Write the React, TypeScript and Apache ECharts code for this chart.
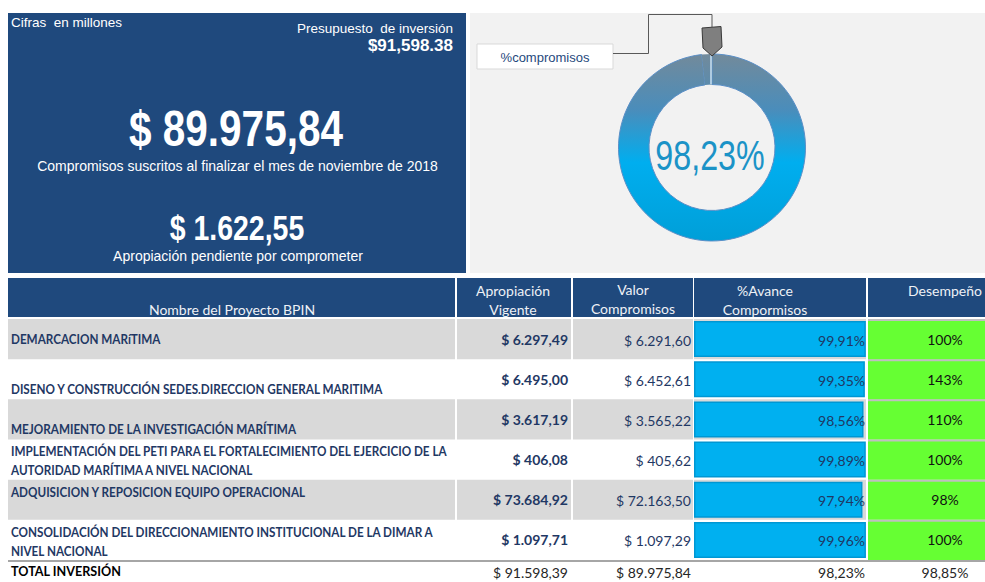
import React, { useEffect, useRef } from "react";
import * as echarts from "echarts";

// ---------------- data ----------------
const projects = [
  "DEMARCACION MARíTIMA",
  "DISENO Y CONSTRUCCIÓN SEDES.DIRECCION GENERAL MARITIMA",
  "MEJORAMIENTO DE LA INVESTIGACIÓN MARÍTIMA",
  "IMPLEMENTACIÓN DEL PETI PARA EL FORTALECIMIENTO DEL EJERCICIO DE LA\nAUTORIDAD MARÍTIMA A NIVEL NACIONAL",
  "ADQUISICION Y REPOSICION EQUIPO OPERACIONAL",
  "CONSOLIDACIÓN DEL DIRECCIONAMIENTO INSTITUCIONAL DE LA DIMAR A\nNIVEL NACIONAL",
];
const apropiacionVigente = [6297.49, 6495.0, 3617.19, 406.08, 73684.92, 1097.71];
const valorCompromisos = [6291.6, 6452.61, 3565.22, 405.62, 72163.5, 1097.29];
const avanceCompromisos = [99.91, 99.35, 98.56, 99.89, 97.94, 99.96];
const desempeno = [100, 143, 110, 100, 98, 100];

const totalLabel = "TOTAL INVERSIÓN";
const totalApropiacion = 91598.39;
const totalCompromisos = 89975.84;
const totalAvance = 98.23;
const totalDesempeno = 98.85;

const headerLabels = [
  "Nombre del Proyecto BPIN",
  "Apropiación\nVigente",
  "Valor\nCompromisos",
  "%Avance\nCompormisos",
  "Desempeño",
];

const unitsNote = "Cifras  en millones";
const budgetTitle = "Presupuesto  de inversión";
const presupuestoInversion = 91598.38;
const compromisosSuscritos = 89975.84;
const committedCaption = "Compromisos suscritos al finalizar el mes de noviembre de 2018";
const pendientePorComprometer = 1622.55;
const pendingCaption = "Apropiación pendiente por comprometer";
const gaugeLegend = "%compromisos";
const gaugeSliceNames = ["%compromisos", "pendiente"];
const gaugeSlices = [98.23, 1.77];

// ---------------- formatting ----------------
function groupInt(s: string, sep: string) {
  return s.replace(/\B(?=(\d{3})+$)/g, sep);
}
function fmtEs(v: number, d = 2) {
  const [i, f] = v.toFixed(d).split(".");
  return groupInt(i, ".") + (f ? "," + f : "");
}
function fmtUs(v: number) {
  const [i, f] = v.toFixed(2).split(".");
  return groupInt(i, ",") + "." + f;
}
const money = (v: number) => "$ " + fmtEs(v);
const pct = (v: number, d = 2) => fmtEs(v, d) + "%";

// ---------------- layout / style ----------------
const FONT_T = "Lato, 'Open Sans', sans-serif";
const FONT_A = "'Liberation Sans', Arial, sans-serif";
const NAVY = "#1F497D";
const DARK = "#1F3864";
const GREY_ROW = "#D9D9D9";
const COLS = [
  [8, 455],
  [457, 571],
  [573, 693],
  [694, 866],
  [868, 985],
];
const BODY_TOP = 319;
const BODY_H = 241;
const NAME_VALIGN = ["middle", "bottom", "bottom", "middle", "top", "middle"];

function txt(x: number, y: number, text: string, font: string, fill: string, align = "left", valign = "middle", extra: any = {}) {
  return {
    type: "text",
    x,
    y,
    z: 10,
    silent: true,
    ...extra,
    style: {
      text,
      x: 0,
      y: 0,
      font,
      fill,
      align,
      textAlign: align,
      verticalAlign: valign,
      textVerticalAlign: valign,
      ...(extra.style || {}),
    },
  };
}

function renderBg(params: any, api: any) {
  const i = params.dataIndex;
  const yc = api.coord([0, i])[1];
  const h = api.size([0, 1])[1];
  const top = yc - h / 2;
  const children: any[] = [];
  if (i % 2 === 0) {
    for (let c = 0; c < 4; c++) {
      children.push({
        type: "rect",
        shape: { x: COLS[c][0], y: top, width: COLS[c][1] - COLS[c][0], height: h },
        style: { fill: GREY_ROW },
      });
    }
  }
  children.push({
    type: "rect",
    shape: { x: COLS[4][0], y: top, width: COLS[4][1] - COLS[4][0], height: h },
    style: { fill: "#66FF33" },
  });
  children.push({
    type: "rect",
    shape: { x: COLS[4][0], y: top, width: COLS[4][1] - COLS[4][0], height: 2 },
    style: { fill: "#BFBFBF" },
  });
  return { type: "group", children };
}

function renderText(params: any, api: any) {
  const i = params.dataIndex;
  const yc = api.coord([0, i])[1];
  const h = api.size([0, 1])[1];
  const top = yc - h / 2;
  const al = NAME_VALIGN[i];
  const ny =
    al === "top" ? top + 13 : al === "bottom" ? top + h - 10 : yc + (projects[i].indexOf("\n") >= 0 ? 1.5 : 0);
  const mk = (x: number, y: number, text: string, font: string, fill: string, align: string, scaleX = 1) => ({
    type: "text",
    x,
    y,
    scaleX,
    style: { text, x: 0, y: 0, font, fill, align, verticalAlign: "middle", lineHeight: 19 },
  });
  return {
    type: "group",
    children: [
      mk(11, ny, projects[i], `bold 13px ${FONT_T}`, DARK, "left", 0.9),
      mk(568, yc, money(apropiacionVigente[i]), `bold 14px ${FONT_T}`, DARK, "right"),
      mk(691, yc + 1, money(valorCompromisos[i]), `14px ${FONT_T}`, DARK, "right"),
      mk(865, yc + 1, pct(avanceCompromisos[i]), `14px ${FONT_T}`, DARK, "right"),
      mk(945, yc, pct(desempeno[i], 0), `14px ${FONT_T}`, "#111111", "center"),
    ],
  };
}

export default function App() {
  const ref = useRef<HTMLDivElement>(null);
  useEffect(() => {
    if (!ref.current) return;
    const chart = echarts.init(ref.current, undefined, { renderer: "svg" });

    const ringGrad = new echarts.graphic.LinearGradient(
      0,
      54,
      0,
      241,
      [
        { offset: 0, color: "#728A9B" },
        { offset: 0.3, color: "#4A8DBB" },
        { offset: 0.58, color: "#00AEEF" },
        { offset: 1, color: "#009FD8" },
      ],
      true
    );

    const graphics: any[] = [
      // top-left KPI panel
      { type: "rect", z: 0, silent: true, shape: { x: 8, y: 13, width: 458, height: 260 }, style: { fill: NAVY } },
      // gauge panel
      { type: "rect", z: 0, silent: true, shape: { x: 470, y: 13, width: 515, height: 260 }, style: { fill: "#F2F2F2" } },
      txt(11, 22.5, unitsNote, `13.5px ${FONT_A}`, "#FFFFFF"),
      txt(453, 28, budgetTitle, `13.5px ${FONT_A}`, "#FFFFFF", "right"),
      txt(453, 45, "$" + fmtUs(presupuestoInversion), `bold 17px ${FONT_A}`, "#FFFFFF", "right"),
      txt(236, 129, money(compromisosSuscritos), `bold 50px ${FONT_A}`, "#FFFFFF", "center", "middle", { scaleX: 0.81 }),
      txt(237.5, 166, committedCaption, `14px ${FONT_A}`, "#FFFFFF", "center"),
      txt(237, 228, money(pendientePorComprometer), `bold 36px ${FONT_A}`, "#FFFFFF", "center", "middle", { scaleX: 0.79 }),
      txt(238, 256, pendingCaption, `14px ${FONT_A}`, "#FFFFFF", "center"),
      // gauge legend box + connector + pointer
      {
        type: "rect",
        z: 10,
        silent: true,
        shape: { x: 477, y: 44, width: 136, height: 25 },
        style: { fill: "#FFFFFF", stroke: "#D9D9D9", lineWidth: 1 },
      },
      txt(545, 57, gaugeLegend, `13px ${FONT_A}`, NAVY, "center"),
      {
        type: "polyline",
        z: 10,
        silent: true,
        shape: { points: [[613, 53.5], [648.5, 53.5], [648.5, 14.5], [712, 14.5], [712, 27]] },
        style: { stroke: "#595959", lineWidth: 1, fill: null },
      },
      {
        type: "line",
        z: 10,
        silent: true,
        shape: { x1: 711, y1: 55, x2: 711, y2: 84 },
        style: { stroke: "#C8E0F4", lineWidth: 1.5 },
      },
      {
        type: "polygon",
        z: 11,
        silent: true,
        shape: { points: [[702, 28], [721, 26.5], [722, 47], [712, 56], [703, 48]] },
        style: { fill: "#7F7F7F", stroke: "#3A3A3A", lineWidth: 1 },
      },
      txt(710, 155, pct(gaugeSlices[0]), `43px ${FONT_A}`, "#1B93C7", "center", "middle", { scaleX: 0.75 }),
    ];

    // header row
    const hdrTextPos = [
      { x: 232, y: 309, align: "center" },
      { x: 513, y: 300, align: "center" },
      { x: 633, y: 298.5, align: "center" },
      { x: 765, y: 299.5, align: "center" },
      { x: 945, y: 290, align: "center" },
    ];
    COLS.forEach((c, k) => {
      graphics.push({
        type: "rect",
        z: 0,
        silent: true,
        shape: { x: c[0], y: 278, width: c[1] - c[0], height: 39 },
        style: { fill: NAVY },
      });
      graphics.push(
        txt(hdrTextPos[k].x, hdrTextPos[k].y, headerLabels[k], `14px ${FONT_T}`, "#EEF1F6", hdrTextPos[k].align, "middle", {
          style: { lineHeight: 19 },
        })
      );
    });

    // bottom separator + totals
    graphics.push({
      type: "line",
      z: 10,
      silent: true,
      shape: { x1: 8, y1: 561, x2: 985, y2: 561 },
      style: { stroke: "#A6A6A6", lineWidth: 2 },
    });
    graphics.push(txt(11, 571, totalLabel, `bold 13px ${FONT_T}`, "#000000", "left", "middle", { scaleX: 0.97 }));
    graphics.push(txt(568, 572, money(totalApropiacion), `14px ${FONT_T}`, "#262626", "right"));
    graphics.push(txt(691, 572, money(totalCompromisos), `14px ${FONT_T}`, "#262626", "right"));
    graphics.push(txt(865, 572, pct(totalAvance), `14px ${FONT_T}`, "#262626", "right"));
    graphics.push(txt(945, 572, pct(totalDesempeno), `14px ${FONT_T}`, "#262626", "center"));

    const rowData = projects.map((_, i) => [0, i]);

    chart.setOption({
      animation: false,
      backgroundColor: "#FFFFFF",
      grid: [
        { left: COLS[0][0], top: BODY_TOP, width: COLS[4][1] - COLS[0][0], height: BODY_H },
        { left: COLS[3][0], top: BODY_TOP, width: COLS[3][1] - COLS[3][0], height: BODY_H },
      ],
      xAxis: [
        { gridIndex: 0, type: "value", min: 0, max: 1, show: false },
        { gridIndex: 1, type: "value", min: 0, max: 100, show: false },
      ],
      yAxis: [
        { gridIndex: 0, type: "category", data: projects, inverse: true, show: false },
        { gridIndex: 1, type: "category", data: projects, inverse: true, show: false },
      ],
      graphic: { elements: graphics },
      series: [
        {
          type: "custom",
          xAxisIndex: 0,
          yAxisIndex: 0,
          z: 1,
          silent: true,
          data: rowData,
          renderItem: renderBg,
        },
        {
          type: "bar",
          xAxisIndex: 1,
          yAxisIndex: 1,
          z: 2,
          silent: true,
          data: avanceCompromisos,
          barWidth: 36,
          itemStyle: { color: "#00B0F0", borderColor: "#0097D3", borderWidth: 1.5 },
          label: { show: false },
        },
        {
          type: "custom",
          xAxisIndex: 0,
          yAxisIndex: 0,
          z: 5,
          silent: true,
          data: rowData,
          renderItem: renderText,
        },
        {
          type: "pie",
          z: 3,
          silent: true,
          center: [712, 147.5],
          radius: [63, 93.5],
          startAngle: 90,
          clockwise: true,
          label: { show: false },
          labelLine: { show: false },
          emphasis: { disabled: true },
          data: gaugeSlices.map((v, k) => ({
            value: v,
            name: gaugeSliceNames[k],
            itemStyle:
              k === 0
                ? { color: ringGrad, borderColor: "#5B8FC7", borderWidth: 1 }
                : { color: ringGrad, borderWidth: 0 },
          })),
        },
      ],
    });
    return () => chart.dispose();
  }, []);
  return (
    <div
      ref={ref}
      style={{ position: "absolute", left: 0, top: 0, width: 985, height: 582 }}
    />
  );
}
